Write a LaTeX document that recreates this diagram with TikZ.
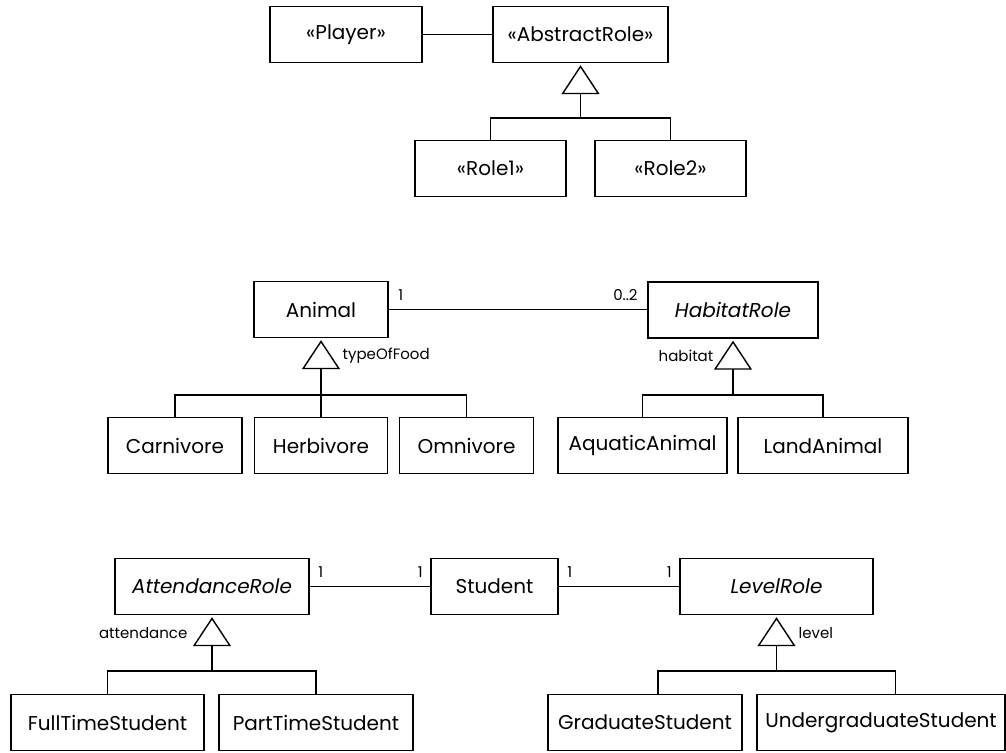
\documentclass[tikz,border=0pt]{standalone}
\usepackage{fontspec}
\setmainfont{Poppins}
\usetikzlibrary{arrows.meta}

\begin{document}
\begin{tikzpicture}[x=1pt, y=-1pt, line width=1.4pt,
    cls/.style={draw, inner sep=0pt, minimum height=56pt, font=\fontsize{20}{24}\selectfont},
    lbl/.style={inner sep=0pt, font=\fontsize{15}{17}\selectfont},
    gen/.style={-{Triangle[open, length=29pt, width=38pt]}}]
    \useasboundingbox (0,0) rectangle (1006,752);

    % player and roles
    \node[cls, minimum width=152pt] (player) at (346,34.5) {«Player»};
    \node[cls, minimum width=175pt] (abstract) at (580.5,34.5) {«AbstractRole»};
    \foreach \n/\x/\t in {role1/490.5/«Role1», role2/670.5/«Role2»} {
        \node[cls, minimum width=151pt] (\n) at (\x,168.5) {\t};
    }
    \draw (player) -- (abstract);
    \coordinate (j0) at (580.5,118);
    \draw[gen] (j0) -- ([yshift=-2pt]abstract.south);
    \draw (role1.north) |- (j0) -| (role2.north);

    % animal
    \node[cls, minimum width=134pt] (animal) at (321,309.5) {Animal};
    \node[cls, minimum width=170pt] (habitat) at (733,310) {\itshape HabitatRole};
    \foreach \n/\x/\w/\t in {carnivore/175/134/Carnivore, herbivore/321/133/Herbivore,
        omnivore/466.5/134/Omnivore, aquatic/642.5/169/AquaticAnimal, land/823/170/LandAnimal} {
        \node[cls, minimum width=\w pt] (\n) at (\x,445.5) {\t};
    }
    \draw (animal.east) -- (animal.east -| habitat.west);
    \node[lbl, anchor=west] (m1) at ([xshift=9pt, yshift=14pt]animal.east) {1};
    \node[lbl, anchor=east] (m2) at ([xshift=-9pt, yshift=14.5pt]animal.east -| habitat.west) {0..2};
    \coordinate (j1) at (321,395);
    \coordinate (j2) at (733,395);
    \draw[gen] (j1) -- ([yshift=-2pt]animal.south);
    \draw[gen] (j2) -- ([yshift=-2pt]habitat.south);
    \draw (carnivore.north) |- (j1) -| (omnivore.north);
    \draw (herbivore.north) -- (j1);
    \draw (aquatic.north) |- (j2) -| (land.north);
    \node[lbl, anchor=west] (food) at (342,356) {typeOfFood};
    \node[lbl, anchor=east] (hab) at (714,356) {habitat};

    % student
    \node[cls, minimum width=194pt] (attend) at (212,586.5) {\itshape AttendanceRole};
    \node[cls, minimum width=127pt] (student) at (494.5,586.5) {Student};
    \node[cls, minimum width=193pt] (level) at (776.5,586.5) {\itshape LevelRole};
    \foreach \n/\x/\w/\t in {fulltime/107.5/193/FullTimeStudent, parttime/316/194/PartTimeStudent,
        graduate/645/194/GraduateStudent, undergrad/881/248/UndergraduateStudent} {
        \node[cls, minimum width=\w pt] (\n) at (\x,722.5) {\t};
    }
    \draw (attend) -- (student);
    \draw (student) -- (level);
    \node[lbl, anchor=west] (m3) at ([xshift=8pt, yshift=14pt]attend.east) {1};
    \node[lbl, anchor=east] (m4) at ([xshift=-7pt, yshift=14pt]student.west) {1};
    \node[lbl, anchor=west] (m5) at ([xshift=8pt, yshift=14pt]student.east) {1};
    \node[lbl, anchor=east] (m6) at ([xshift=-7pt, yshift=14pt]level.west) {1};
    \coordinate (j3) at (212,671);
    \coordinate (j4) at (776.5,671);
    \draw[gen] (j3) -- ([yshift=-2pt]attend.south);
    \draw[gen] (j4) -- ([yshift=-2pt]level.south);
    \draw (fulltime.north) |- (j3) -| (parttime.north);
    \draw ([xshift=13pt]graduate.north) |- (j4) -| ([xshift=14.5pt]undergrad.north);
    \node[lbl, anchor=east] (att) at (188,633) {attendance};
    \node[lbl, anchor=west] (lev) at (798,633) {level};
\end{tikzpicture}
\end{document}
